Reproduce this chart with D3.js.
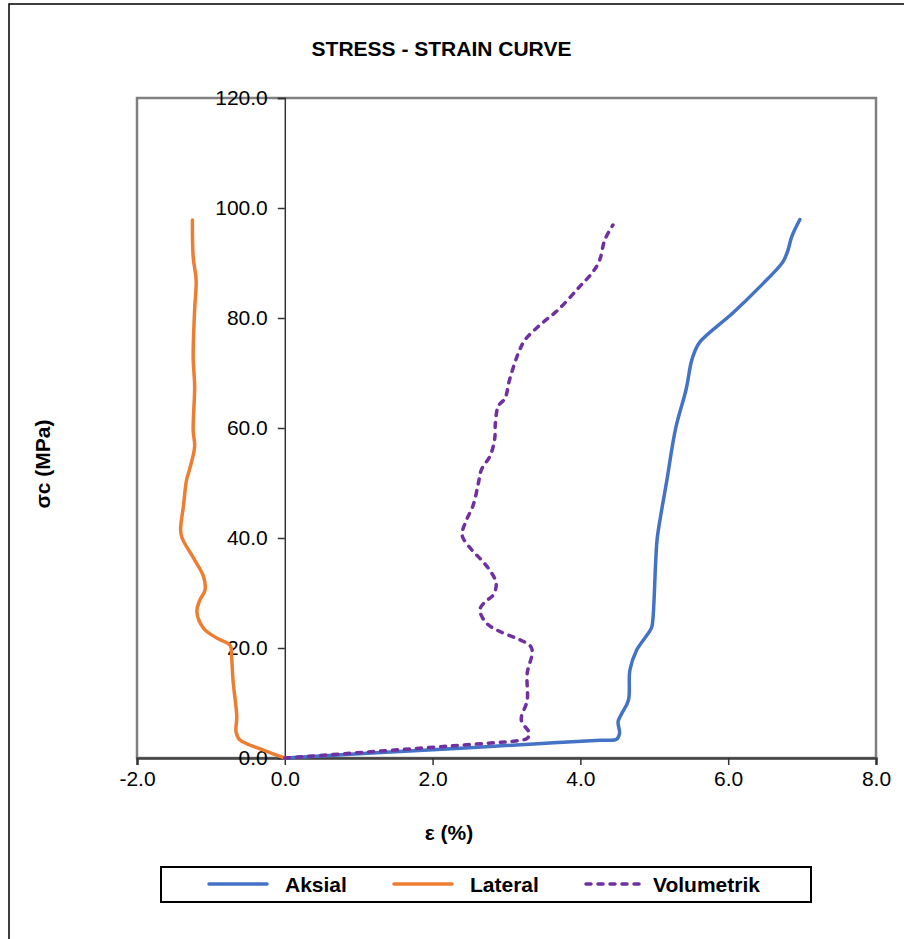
<!DOCTYPE html>
<html><head><meta charset="utf-8">
<script src="https://cdn.jsdelivr.net/npm/d3@7"></script>
<style>body{margin:0;background:#fff}svg{display:block;font-family:"Liberation Sans",Arial,sans-serif}</style>
</head><body><svg id="c" width="904" height="939"></svg>
<script>
const seriesNames = ["Aksial","Lateral","Volumetrik"];
const seriesColors = ["#4472C4","#ED7D31","#7030A0"];
const xTicks = [-2,0,2,4,6,8];
const yTicks = [0,20,40,60,80,100,120];
const aksial = [[0,0],[1.12,0.85],[2.25,1.7],[3.37,2.55],[4.27,3.23],[4.49,3.4],[4.53,4.5],[4.51,6.6],[4.56,8.1],[4.65,10.5],[4.67,16],[4.76,19.6],[4.96,23.6],[4.98,25.1],[5.02,36],[5.04,40],[5.17,50.5],[5.29,60],[5.43,67],[5.50,72],[5.55,74],[5.62,75.7],[6.07,81],[6.43,85.7],[6.74,90.2],[6.81,92.4],[6.86,94.8],[6.97,97.9]];
const lateral = [[0,0],[-0.29,1.45],[-0.61,3.3],[-0.66,4.8],[-0.65,7.5],[-0.70,14],[-0.72,18.4],[-0.74,20.5],[-0.92,21.8],[-1.10,23.6],[-1.19,26.6],[-1.15,28.7],[-1.08,30.5],[-1.10,33],[-1.22,36],[-1.39,40],[-1.41,41.5],[-1.37,46],[-1.33,50.5],[-1.29,52.4],[-1.22,56.6],[-1.24,59.6],[-1.22,67.5],[-1.24,73],[-1.22,81.5],[-1.20,86.9],[-1.24,91.1],[-1.25,97.8]];
const volumetrik = [[0,0],[0.76,0.74],[1.52,1.48],[2.28,2.23],[2.89,2.82],[3.04,2.97],[3.28,3.58],[3.31,4.5],[3.20,6.9],[3.28,10.5],[3.28,15.4],[3.35,19.3],[3.32,20.4],[3.18,21.5],[2.91,23],[2.73,24.5],[2.64,26.9],[2.71,28.4],[2.82,29.6],[2.86,31.8],[2.77,34.2],[2.66,36],[2.52,38],[2.40,40.5],[2.45,43],[2.55,46],[2.62,50],[2.66,52.4],[2.78,55],[2.84,58],[2.85,61],[2.89,64],[2.98,65.4],[3.04,68.7],[3.16,73.6],[3.25,76],[3.45,78.7],[3.70,81.5],[3.99,85.7],[4.17,88.4],[4.26,90.5],[4.33,94.2],[4.44,96.9]];
const allSeries = [aksial, lateral, volumetrik];

const svg = d3.select("#c");
svg.append("rect").attr("x",9).attr("y",4).attr("width",1000).attr("height",1000)
  .attr("fill","none").attr("stroke","#000").attr("stroke-width",1.5);

const L=137,R=876,T=98,B=758;
const x = d3.scaleLinear().domain([-2,8]).range([L,R]);
const y = d3.scaleLinear().domain([0,120]).range([B,T]);

svg.append("rect").attr("x",L).attr("y",T).attr("width",R-L).attr("height",B-T)
  .attr("fill","none").attr("stroke","#808080").attr("stroke-width",2.5);

svg.append("text").attr("x",441.5).attr("y",56).attr("text-anchor","middle")
  .attr("font-size",21).attr("font-weight","bold").text("STRESS - STRAIN CURVE");

const fmt = d => d3.format(".1f")(d).replace("\u2212","-");
const xAxis = svg.append("g").attr("transform",`translate(0,${B})`)
  .call(d3.axisBottom(x).tickValues(xTicks).tickFormat(fmt).tickSize(7).tickPadding(6));
const yAxis = svg.append("g").attr("transform",`translate(${x(0)},0)`)
  .call(d3.axisLeft(y).tickValues(yTicks).tickFormat(fmt).tickSize(7).tickPadding(10));
[xAxis,yAxis].forEach(g=>{
  g.selectAll("text").attr("font-size",21).attr("font-family","Liberation Sans, Arial, sans-serif").attr("fill","#000");
  g.selectAll("line").attr("stroke","#333").attr("stroke-width",1.5);
  g.select(".domain").attr("stroke","#333").attr("stroke-width",1.5);
});
xAxis.select(".domain").attr("stroke","#444").attr("stroke-width",2.5);

svg.append("text").attr("x",449).attr("y",840).attr("text-anchor","middle")
  .attr("font-size",21).attr("font-weight","bold").text("ε (%)");
svg.append("text").attr("transform","translate(50,464) rotate(-90)").attr("text-anchor","middle")
  .attr("font-size",21).attr("font-weight","bold").text("σc (MPa)");

const line = d3.line().x(d=>x(d[0])).y(d=>y(d[1])).curve(d3.curveCatmullRom.alpha(0.5));
allSeries.forEach((s,i)=>{
  svg.append("path").datum(s).attr("d",line).attr("fill","none")
    .attr("stroke",seriesColors[i]).attr("stroke-width",3.5)
    .attr("stroke-linecap","round").attr("stroke-linejoin","round")
    .attr("stroke-dasharray", i===2 ? "5,7" : null);
});

svg.append("rect").attr("x",161).attr("y",867).attr("width",650).attr("height",35)
  .attr("fill","#fff").attr("stroke","#000").attr("stroke-width",2);
const legX = [209,394,586];
seriesNames.forEach((n,i)=>{
  svg.append("line").attr("x1",legX[i]).attr("x2",legX[i]+58).attr("y1",884).attr("y2",884)
    .attr("stroke",seriesColors[i]).attr("stroke-width",3.5).attr("stroke-linecap","round")
    .attr("stroke-dasharray", i===2 ? "5,7" : null);
  svg.append("text").attr("x",legX[i]+(i===2?67:76)).attr("y",892)
    .attr("font-size",21).attr("font-weight","bold").text(n);
});
</script></body></html>
